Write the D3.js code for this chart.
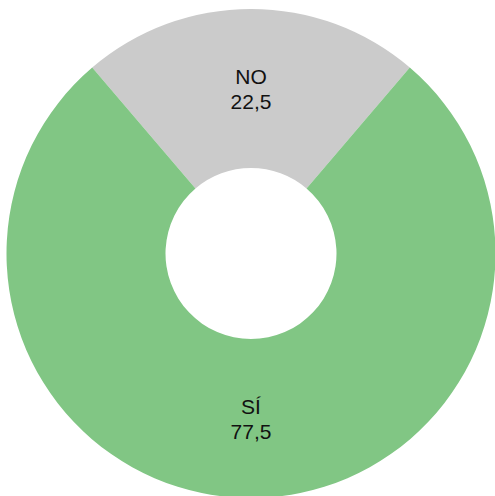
<!DOCTYPE html>
<html>
<head>
<meta charset="utf-8">
<script src="https://cdn.jsdelivr.net/npm/d3@7"></script>
<style>
  html, body { margin: 0; padding: 0; background: #fff; }
  svg { display: block; }
</style>
</head>
<body>
<svg id="chart" width="495" height="496"></svg>
<script>
const categories = ["NO", "SÍ"];
const values = [22.5, 77.5];
const valueLabels = ["22,5", "77,5"];
const colors = ["#cbcbcb", "#81c684"];

const svg = d3.select("#chart");
const cx = 251, cy = 253.5;
const outerR = 244.5, innerR = 85.5;

const total = d3.sum(values);
const startA = -Math.PI * values[0] / total;

const pie = d3.pie().sort(null).value(d => d.v)
  .startAngle(startA).endAngle(startA + 2 * Math.PI);
const data = categories.map((c, i) => ({ c, v: values[i], lbl: valueLabels[i], col: colors[i] }));
const arcs = pie(data);
const arc = d3.arc().innerRadius(innerR).outerRadius(outerR);

const g = svg.append("g").attr("transform", `translate(${cx},${cy})`);
g.selectAll("path").data(arcs).join("path")
  .attr("d", arc)
  .attr("fill", d => d.data.col);

const lab = g.selectAll("text").data(arcs).join("text")
  .attr("transform", d => `translate(${arc.centroid(d)})`)
  .attr("text-anchor", "middle")
  .attr("font-family", "'Liberation Sans', Arial, sans-serif")
  .attr("font-size", 21)
  .attr("fill", "#111");
lab.append("tspan").attr("x", 0).attr("y", -5).text(d => d.data.c);
lab.append("tspan").attr("x", 0).attr("y", 20).text(d => d.data.lbl);
</script>
</body>
</html>
